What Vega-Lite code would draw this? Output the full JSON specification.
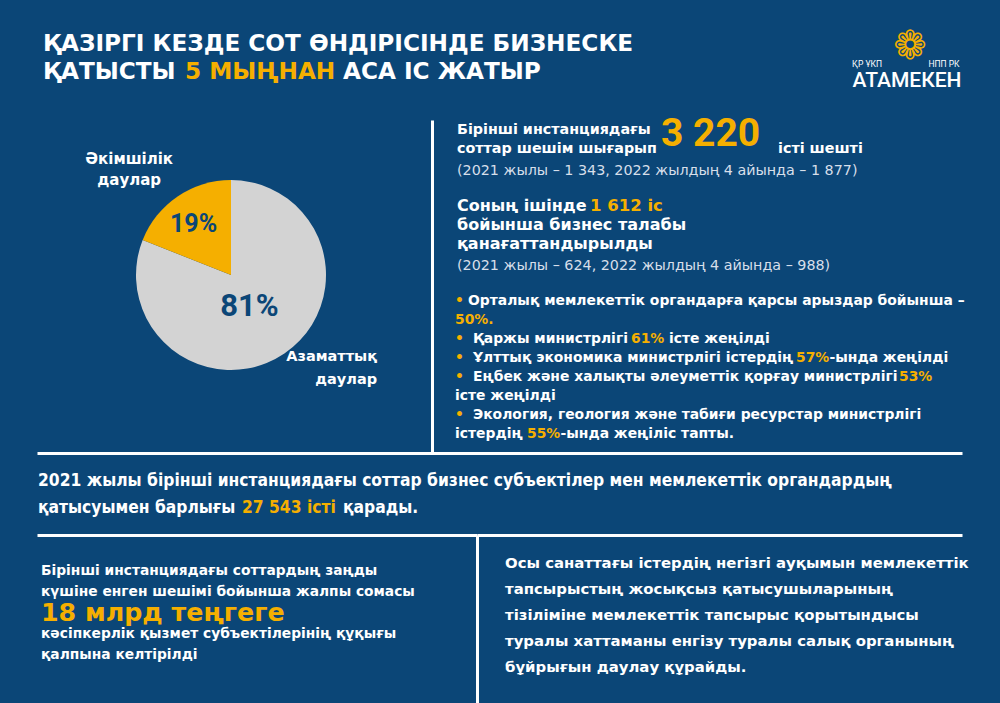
{
  "$schema": "https://vega.github.io/schema/vega-lite/v6.json",
  "background": "#0B4677",
  "padding": {"left": 37, "right": 38, "top": 0, "bottom": 0},
  "autosize": {"type": "pad"},
  "bounds": "full",
  "spacing": 0,
  "config": {
    "view": {"stroke": null},
    "text": {"font": "DejaVu Sans", "fontWeight": "bold", "align": "left", "baseline": "middle", "color": "#FFFFFF"}
  },
  "vconcat": [
    {
      "width": 925,
      "height": 115,
      "encoding": {
        "x": {"datum": 0, "type": "quantitative", "scale": {"domain": [0, 1], "nice": false, "zero": false}, "axis": null},
        "y": {"field": "line", "type": "quantitative", "scale": {"domain": [-1.617, 2.580], "reverse": true, "nice": false, "zero": false}, "axis": null},
        "text": {"field": "text", "type": "nominal"}
      },
      "layer": [
        {"data": {"values": [{"line": 0, "text": "ҚАЗІРГІ КЕЗДЕ СОТ ӨНДІРІСІНДЕ БИЗНЕСКЕ"}, {"line": 1, "text": "ҚАТЫСТЫ"}]},
         "mark": {"type": "text", "fontSize": 23.2, "dx": 6}},
        {"data": {"values": [{"line": 1, "text": "5 МЫҢНАН"}]},
         "mark": {"type": "text", "fontSize": 23.2, "dx": 148, "color": "#F5AF00"}},
        {"data": {"values": [{"line": 1, "text": "АСА ІС ЖАТЫР"}]},
         "mark": {"type": "text", "fontSize": 23.2, "dx": 306}},
        {"data": {"values": [{"line": 0, "text": "❁"}]},
         "mark": {"type": "text", "fontSize": 40, "fontWeight": "normal", "align": "center", "dx": 873, "dy": 3, "color": "#F5AF00"}},
        {"data": {"values": [{"line": 0, "text": "ҚР ҰКП"}]},
         "mark": {"type": "text", "font": "Roboto", "fontWeight": "normal", "fontSize": 8.5, "align": "center", "dx": 830, "dy": 20}},
        {"data": {"values": [{"line": 0, "text": "НПП РК"}]},
         "mark": {"type": "text", "font": "Roboto", "fontWeight": "normal", "fontSize": 8.5, "align": "center", "dx": 907, "dy": 20}},
        {"data": {"values": [{"line": 1, "text": "АТАМЕКЕН"}]},
         "mark": {"type": "text", "font": "Roboto", "fontWeight": 500, "fontSize": 21, "align": "center", "dx": 870, "dy": 9}}
      ]
    },
    {
      "hconcat": [
        {
          "width": 388,
          "height": 310,
          "data": {"values": [
            {"category": "Азаматтық даулар", "share": 81, "label": "81%"},
            {"category": "Әкімшілік даулар", "share": 19, "label": "19%"}
          ]},
          "encoding": {
            "theta": {"field": "share", "type": "quantitative", "stack": true},
            "order": {"field": "category", "sort": "ascending"},
            "detail": {"field": "category"}
          },
          "layer": [
            {"mark": {"type": "arc", "outerRadius": 95},
             "encoding": {"color": {"field": "category", "type": "nominal", "scale": {"domain": ["Азаматтық даулар", "Әкімшілік даулар"], "range": ["#D3D3D3", "#F5AF00"]}, "legend": null}}},
            {"mark": {"type": "text", "font": "Roboto", "fontSize": 25, "align": "center", "radius": 56, "dx": -6, "dy": -5, "color": "#0B4677"},
             "encoding": {"text": {"condition": {"test": "datum.share < 50", "field": "label"}, "value": ""}}},
            {"mark": {"type": "text", "font": "Roboto", "fontSize": 31, "align": "center", "radius": 40, "dx": -4, "dy": -1, "color": "#0B4677"},
             "encoding": {"text": {"condition": {"test": "datum.share > 50", "field": "label"}, "value": ""}}},
            {"mark": {"type": "text", "fontSize": 15, "align": "center", "radius": 126, "dx": -31, "dy": -12, "lineBreak": " ", "lineHeight": 21},
             "encoding": {"text": {"condition": {"test": "datum.share < 50", "field": "category"}, "value": ""}}},
            {"mark": {"type": "text", "fontSize": 14.5, "align": "right", "radius": 114, "dx": 82, "dy": -12, "lineBreak": " ", "lineHeight": 23},
             "encoding": {"text": {"condition": {"test": "datum.share > 50", "field": "category"}, "value": ""}}}
          ]
        },
        {
          "width": 530,
          "height": 333,
          "encoding": {
            "x": {"datum": 0, "type": "quantitative", "scale": {"domain": [0, 1], "nice": false, "zero": false}, "axis": null},
            "y": {"field": "line", "type": "quantitative", "scale": {"domain": [-0.5526, 16.974], "reverse": true, "nice": false, "zero": false},
                  "axis": {"orient": "left", "title": null, "labels": false, "ticks": false, "grid": false, "domain": true, "domainColor": "#FFFFFF", "domainWidth": 3}},
            "text": {"field": "text", "type": "nominal"}
          },
          "layer": [
            {"data": {"values": [{"line": 0, "text": "Бірінші инстанциядағы"}, {"line": 1, "text": "соттар шешім шығарып"}]},
             "mark": {"type": "text", "fontSize": 14.3, "dx": 25}},
            {"data": {"values": [{"line": 0, "text": "3 220"}]},
             "mark": {"type": "text", "font": "Roboto", "fontSize": 39, "dx": 229, "dy": 4, "color": "#F5AF00"}},
            {"data": {"values": [{"line": 1, "text": "істі шешті"}]},
             "mark": {"type": "text", "fontSize": 14.3, "dx": 346}},
            {"data": {"values": [{"line": 2, "text": "(2021 жылы – 1 343, 2022 жылдың 4 айында – 1 877)"}, {"line": 7, "text": "(2021 жылы – 624, 2022 жылдың 4 айында – 988)"}]},
             "mark": {"type": "text", "fontWeight": "normal", "fontSize": 14.3, "dx": 25, "dy": 3, "color": "#D7DFEA"}},
            {"data": {"values": [{"line": 4, "text": "Соның ішінде"}, {"line": 5, "text": "бойынша бизнес талабы"}, {"line": 6, "text": "қанағаттандырылды"}]},
             "mark": {"type": "text", "fontSize": 16, "dx": 25}},
            {"data": {"values": [{"line": 4, "text": "1 612 іс"}]},
             "mark": {"type": "text", "fontSize": 16.5, "dx": 158, "color": "#F5AF00"}},
            {"data": {"values": [{"line": 9, "text": "•"}, {"line": 11, "text": "•"}, {"line": 12, "text": "•"}, {"line": 13, "text": "•"}, {"line": 15, "text": "•"}]},
             "mark": {"type": "text", "fontSize": 13.9, "dx": 23, "color": "#F5AF00"}},
            {"data": {"values": [{"line": 9, "text": "Орталық мемлекеттік органдарға қарсы арыздар бойынша –"}]},
             "mark": {"type": "text", "fontSize": 13.9, "dx": 36}},
            {"data": {"values": [{"line": 11, "text": "Қаржы министрлігі"}, {"line": 12, "text": "Ұлттық экономика министрлігі істердің"}, {"line": 13, "text": "Еңбек және халықты әлеуметтік қорғау министрлігі"}, {"line": 15, "text": "Экология, геология және табиғи ресурстар министрлігі"}]},
             "mark": {"type": "text", "fontSize": 13.9, "dx": 41}},
            {"data": {"values": [{"line": 14, "text": "істе жеңілді"}, {"line": 16, "text": "істердің"}]},
             "mark": {"type": "text", "fontSize": 13.9, "dx": 23}},
            {"data": {"values": [{"line": 10, "text": "50%."}]},
             "mark": {"type": "text", "fontSize": 13.9, "dx": 23, "color": "#F5AF00"}},
            {"data": {"values": [{"line": 11, "text": "61%"}]},
             "mark": {"type": "text", "fontSize": 13.9, "dx": 199, "color": "#F5AF00"}},
            {"data": {"values": [{"line": 11, "text": "істе жеңілді"}]},
             "mark": {"type": "text", "fontSize": 13.9, "dx": 237}},
            {"data": {"values": [{"line": 12, "text": "57%"}]},
             "mark": {"type": "text", "fontSize": 13.9, "dx": 364, "color": "#F5AF00"}},
            {"data": {"values": [{"line": 12, "text": "-ында жеңілді"}]},
             "mark": {"type": "text", "fontSize": 13.9, "dx": 397.5}},
            {"data": {"values": [{"line": 13, "text": "53%"}]},
             "mark": {"type": "text", "fontSize": 13.9, "dx": 467, "color": "#F5AF00"}},
            {"data": {"values": [{"line": 16, "text": "55%"}]},
             "mark": {"type": "text", "fontSize": 13.9, "dx": 95, "color": "#F5AF00"}},
            {"data": {"values": [{"line": 16, "text": "-ында жеңіліс тапты."}]},
             "mark": {"type": "text", "fontSize": 13.9, "dx": 128.5}}
          ]
        }
      ],
      "spacing": 7,
      "bounds": "flush"
    },
    {
      "width": 925,
      "height": 82,
      "encoding": {
        "x": {"datum": 0, "type": "quantitative", "scale": {"domain": [0, 1], "nice": false, "zero": false},
              "axis": {"orient": "top", "title": null, "labels": false, "ticks": false, "grid": false, "domain": true, "domainColor": "#FFFFFF", "domainWidth": 3}},
        "y": {"field": "line", "type": "quantitative", "scale": {"domain": [-1.037, 2.0], "reverse": true, "nice": false, "zero": false}, "axis": null},
        "text": {"field": "text", "type": "nominal"}
      },
      "layer": [
        {"data": {"values": [{"line": 0, "text": "2021 жылы бірінші инстанциядағы соттар бизнес субъектілер мен мемлекеттік органдардың"}, {"line": 1, "text": "қатысуымен барлығы"}]},
         "mark": {"type": "text", "font": "DejaVu Sans Condensed", "fontSize": 17.3, "dx": 1}},
        {"data": {"values": [{"line": 1, "text": "27 543 істі"}]},
         "mark": {"type": "text", "font": "DejaVu Sans Condensed", "fontSize": 17.3, "dx": 205, "color": "#F5AF00"}},
        {"data": {"values": [{"line": 1, "text": "қарады."}]},
         "mark": {"type": "text", "font": "DejaVu Sans Condensed", "fontSize": 17.3, "dx": 306}}
      ]
    },
    {
      "hconcat": [
        {
          "width": 440,
          "height": 168,
          "encoding": {
            "x": {"datum": 0, "type": "quantitative", "scale": {"domain": [0, 1], "nice": false, "zero": false},
                  "axis": {"orient": "top", "title": null, "labels": false, "ticks": false, "grid": false, "domain": true, "domainColor": "#FFFFFF", "domainWidth": 3}},
            "y": {"field": "line", "type": "quantitative", "scale": {"domain": [-1.714, 6.286], "reverse": true, "nice": false, "zero": false}, "axis": null},
            "text": {"field": "text", "type": "nominal"}
          },
          "layer": [
            {"data": {"values": [
              {"line": 0, "text": "Бірінші инстанциядағы соттардың заңды"},
              {"line": 1, "text": "күшіне енген шешімі бойынша жалпы сомасы"},
              {"line": 3, "text": "кәсіпкерлік қызмет субъектілерінің құқығы"},
              {"line": 4, "text": "қалпына келтірілді"}
            ]},
             "mark": {"type": "text", "fontSize": 13.8, "dx": 4}},
            {"data": {"values": [{"line": 2, "text": "18 млрд теңгеге"}]},
             "mark": {"type": "text", "fontSize": 25.3, "dx": 4, "color": "#F5AF00"}}
          ]
        },
        {
          "width": 485,
          "height": 168,
          "encoding": {
            "x": {"datum": 0, "type": "quantitative", "scale": {"domain": [0, 1], "nice": false, "zero": false},
                  "axis": {"orient": "top", "title": null, "labels": false, "ticks": false, "grid": false, "domain": true, "domainColor": "#FFFFFF", "domainWidth": 3}},
            "y": {"field": "line", "type": "quantitative", "scale": {"domain": [-1.115, 5.346], "reverse": true, "nice": false, "zero": false},
                  "axis": {"orient": "left", "title": null, "labels": false, "ticks": false, "grid": false, "domain": true, "domainColor": "#FFFFFF", "domainWidth": 3}},
            "text": {"field": "text", "type": "nominal"}
          },
          "layer": [
            {"data": {"values": [
              {"line": 0, "text": "Осы санаттағы істердің негізгі ауқымын мемлекеттік"},
              {"line": 1, "text": "тапсырыстың жосықсыз қатысушыларының"},
              {"line": 2, "text": "тізіліміне мемлекеттік тапсырыс қорытындысы"},
              {"line": 3, "text": "туралы хаттаманы енгізу туралы салық органының"},
              {"line": 4, "text": "бұйрығын даулау құрайды."}
            ]},
             "mark": {"type": "text", "fontSize": 14.9, "dx": 28}}
          ]
        }
      ],
      "spacing": 0,
      "bounds": "flush"
    }
  ]
}
